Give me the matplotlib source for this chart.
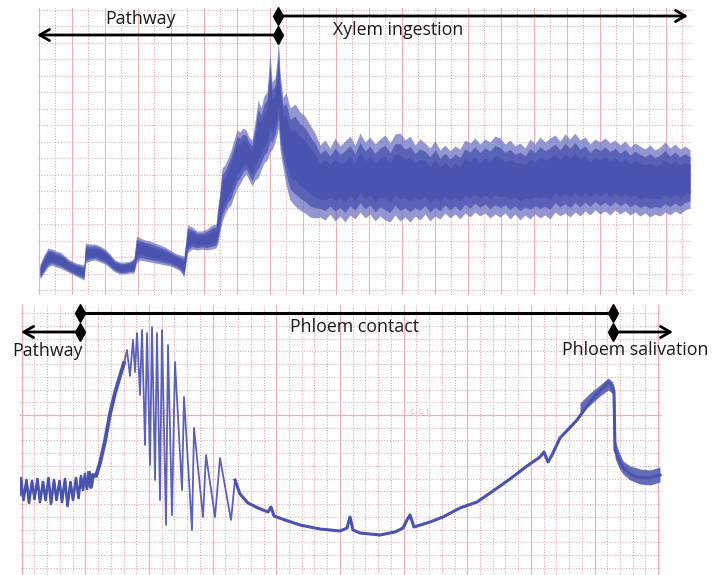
import numpy as np
import matplotlib
matplotlib.use("Agg")
import matplotlib.pyplot as plt
from matplotlib.ticker import FixedLocator

plt.rcParams['font.family'] = ['Open Sans', 'DejaVu Sans']

# ---------------- data (time in screen units, signal in screen units, y inverted) -------------
# Top recording: outer envelope of the noisy signal
top_t = [40, 44, 48, 52, 56, 60, 64, 68, 72, 76, 80, 84, 85.5, 90, 95, 100, 105, 110, 115, 120,
         125, 130, 134, 136.5, 140, 145, 150, 155, 160, 165, 170, 175, 180, 184, 187.5, 192, 197,
         202, 207, 212, 216,
         218, 220, 222, 225, 228, 231, 234, 237, 240, 243, 246, 249, 252, 255, 258, 261, 264, 267,
         270, 272, 275, 277, 278.5, 280, 283, 286, 290, 295, 300, 305, 310, 315, 320,
         325, 330, 335, 340, 345, 350, 355, 360, 365, 370, 375, 380, 385, 390, 395, 400, 405, 410,
         415, 420, 425, 430, 435, 440, 445, 450, 455, 460, 465, 470, 475, 480, 485, 490, 495, 500,
         505, 510, 515, 520, 525, 530, 535, 540, 545, 550, 555, 560, 565, 570, 575, 580, 585, 590,
         595, 600, 605, 610, 615, 620, 625, 630, 635, 640, 645, 650, 655, 660, 665, 670, 675, 680,
         685, 690]
top_hi = [264, 255, 248, 249, 251, 252, 255, 259, 261, 263, 264, 265, 243, 244, 244, 246, 249, 254, 260, 262,
          262, 261, 258, 236, 238, 240, 241, 243, 245, 247, 250, 253, 255, 256, 225, 227, 231,
          231, 229, 225, 224,
          205, 190, 168, 165, 158, 150, 140, 130, 132, 128, 130, 137, 140, 122, 100, 108, 96, 92,
          52, 82, 78, 60, 40, 72, 98, 92, 108, 104, 112, 116, 125, 133, 145,
          140, 148, 138, 146, 141, 136, 145, 133, 142, 137, 144, 139, 135, 143, 134, 133, 140, 136,
          145, 139, 143, 148, 141, 150, 145, 151, 146, 149, 140, 143, 138, 144, 139, 142, 136, 138,
          144, 140, 146, 143, 148, 139, 144, 137, 142, 138, 135, 141, 134, 139, 133, 140, 137, 144,
          139, 142, 138, 143, 140, 145, 141, 147, 143, 146, 149, 145, 150, 147, 142, 148, 144, 149,
          146, 150]
top_lo = [279, 273, 267, 265, 267, 268, 270, 272, 274, 276, 278, 280, 263, 261, 260, 262, 264, 268, 272, 274,
          274, 273, 273, 263, 260, 261, 262, 263, 264, 265, 266, 268, 271, 277, 253, 249, 250,
          249, 250, 249, 248,
          243, 232, 222, 214, 208, 205, 196, 188, 184, 178, 174, 180, 186, 180, 178, 170, 163, 160,
          152, 150, 142, 135, 128, 150, 168, 185, 200, 206, 210, 213, 217, 218, 217,
          220, 214, 221, 216, 222, 215, 219, 212, 218, 214, 221, 216, 220, 222, 215, 221, 217, 222,
          216, 220, 214, 221, 216, 219, 213, 218, 214, 219, 213, 217, 212, 216, 213, 218, 214, 217,
          213, 219, 214, 220, 215, 219, 214, 218, 215, 219, 212, 216, 213, 217, 212, 216, 211, 215,
          210, 214, 211, 215, 210, 214, 211, 215, 212, 216, 213, 217, 214, 216, 212, 215, 211, 214,
          210, 208]

# Bottom recording: signal trace
bot_t = [20, 21, 23.5, 26.5, 29, 32, 34.5, 37.5, 40, 43, 45.5, 48.5, 51, 54, 56.5, 59.5, 62, 65,
         67.5, 70.5, 73, 76, 78.5, 81, 83, 85, 87, 89, 91, 93,
         96, 100, 105, 110, 115, 120, 124,
         127, 130, 133, 135, 137, 140, 142, 145, 147, 150, 152, 155, 157, 160, 162, 166, 168, 172,
         175, 182, 184, 192, 194, 203, 206, 215, 220, 231, 235,
         240, 248, 258, 268, 271, 274, 285, 300, 320, 340, 347, 350, 353, 360, 380, 395, 403, 407,
         410, 414, 430, 443, 460, 477, 493, 510, 527, 540, 544, 548, 552, 560, 577, 593, 605, 608,
         612, 614, 615, 619, 623, 630, 637, 648, 660]
bot_v = [495, 478, 500, 480, 503, 481, 499, 479, 502, 482, 500, 478, 504, 480, 500, 481, 502, 479,
         506, 482, 500, 478, 498, 476, 490, 474, 489, 473, 487, 475,
         476, 463, 441, 414, 393, 376, 363,
         350, 376, 340, 372, 333, 395, 330, 445, 333, 465, 327, 480, 333, 500, 330, 525, 345, 515,
         362, 490, 397, 530, 428, 517, 455, 517, 458, 520, 480,
         494, 503, 508, 512, 507, 516, 520, 525, 529, 531, 528, 517, 530, 533, 535, 532, 528, 520,
         515, 527, 522, 517, 508, 502, 491, 479, 466, 457, 452, 462, 455, 438, 420, 398, 386, 382,
         386, 392, 450, 460, 467, 474, 477, 478, 475]

# noisy band around the peak and after the drop
band_t = [580, 590, 600, 608, 612, 614, 615, 619, 623, 630, 640, 650, 660]
band_hi = [403, 393, 385, 378, 381, 386, 440, 452, 461, 466, 469, 470, 467]
band_lo = [414, 405, 396, 390, 393, 398, 458, 468, 474, 480, 484, 485, 482]

TRACE = "#4a53ad"
TRACE_MID = "#5a62b8"
TRACE_LIGHT = "#6e74c4"
GRID_MINOR = "#e6a0aa"
GRID_MAJOR = "#f0b0b8"
GRID_H = "#d9b0b8"

fig = plt.figure(figsize=(7.25, 5.75), dpi=100)
W, H = 725.0, 575.0


def add_px_axes(x0, x1, y0, y1):
    ax = fig.add_axes([x0 / W, 1 - y1 / H, (x1 - x0) / W, (y1 - y0) / H])
    ax.set_xlim(x0, x1)
    ax.set_ylim(y1, y0)
    for s in ax.spines.values():
        s.set_visible(False)
    ax.tick_params(which='both', length=0, labelleft=False, labelbottom=False)
    return ax

# ---------------- top panel ----------------
ax1 = add_px_axes(38, 692, 8, 295)
vx = [39 + 16.49 * k for k in range(40)]
hy = [290 - 16.49 * k for k in range(18)]
ax1.xaxis.set_major_locator(FixedLocator(vx[0::2]))
ax1.xaxis.set_minor_locator(FixedLocator(vx[1::2]))
ax1.yaxis.set_major_locator(FixedLocator(hy))
ax1.grid(which='major', axis='x', color=GRID_MAJOR, lw=0.8, ls='-')
ax1.grid(which='minor', axis='x', color=GRID_MINOR, lw=0.8, ls=(0, (1, 1.5)))
ax1.grid(which='major', axis='y', color=GRID_H, lw=0.8, ls=(0, (1, 1.5)))
ax1.set_axisbelow(True)

t = np.array(top_t, float)
hi = np.array(top_hi, float)
lo = np.array(top_lo, float)
ax1.fill_between(t, hi, lo, color=TRACE_LIGHT, alpha=0.75, lw=0, zorder=3)
ax1.fill_between(t, hi + (lo - hi) * 0.12, lo - (lo - hi) * 0.12, color=TRACE_MID, lw=0, zorder=4)
ax1.fill_between(t, hi + (lo - hi) * 0.25, lo - (lo - hi) * 0.25, color=TRACE, lw=0, zorder=5)

# ---------------- bottom panel ----------------
ax2 = add_px_axes(20, 662, 305, 575)
bx = [21.7 + 12.73 * k for k in range(51)]
by = [415 + 12.73 * k for k in range(-8, 13)]
ax2.xaxis.set_major_locator(FixedLocator(bx[0::5]))
ax2.xaxis.set_minor_locator(FixedLocator([v for i, v in enumerate(bx) if i % 5]))
ax2.yaxis.set_major_locator(FixedLocator([415]))
ax2.yaxis.set_minor_locator(FixedLocator([v for v in by if abs(v - 415) > 1]))
ax2.grid(which='major', axis='x', color=GRID_MAJOR, lw=0.9, ls='-')
ax2.grid(which='minor', axis='x', color=GRID_MINOR, lw=0.8, ls=(0, (1, 1.5)))
ax2.grid(which='major', axis='y', color=GRID_MAJOR, lw=0.9, ls='-')
ax2.grid(which='minor', axis='y', color=GRID_H, lw=0.8, ls=(0, (1, 1.5)))
ax2.set_axisbelow(True)

bt = np.array(bot_t, float)
bv = np.array(bot_v, float)
ax2.plot(bt, bv, color=TRACE_MID, lw=1.3, zorder=3)
m1 = bt <= 93
ax2.plot(bt[m1], bv[m1], color=TRACE, lw=1.9, zorder=4)
m2 = (bt >= 88) & (bt <= 124)
ax2.plot(bt[m2], bv[m2], color=TRACE, lw=2.8, zorder=4)
m3 = bt >= 235
ax2.plot(bt[m3], bv[m3], color=TRACE, lw=2.2, zorder=4)
ax2.fill_between(band_t, band_hi, band_lo, color=TRACE, alpha=0.85, lw=0, zorder=4)

ax2.text(165, 412, "C\u2013C 1", color="#e8a4ae", fontsize=5.5, ha='center', va='center', zorder=2)
ax2.text(420, 412, "C\u2013C 1", color="#e8a4ae", fontsize=5.5, ha='center', va='center', zorder=2)

# ---------------- annotations (figure pixel overlay) ----------------
ov = fig.add_axes([0, 0, 1, 1])
ov.set_xlim(0, W)
ov.set_ylim(H, 0)
ov.axis('off')
ov.patch.set_alpha(0)

arrow_kw = dict(arrowstyle='->,head_length=0.7,head_width=0.4', lw=2.0, color='black',
                shrinkA=0, shrinkB=0)
fs = 12.8
# top
ov.annotate('', xy=(37, 35), xytext=(278, 35), arrowprops=arrow_kw)
ov.annotate('', xy=(688, 16), xytext=(278, 16), arrowprops=arrow_kw)
ov.plot([278, 278], [16, 35], ls='none', marker='d', ms=9, color='black')
ov.text(141, 19, "Pathway", fontsize=fs, ha='center', va='center', color='#1a1a1a')
ov.text(398, 30, "Xylem ingestion", fontsize=fs, ha='center', va='center', color='#1a1a1a')
# bottom
ov.plot([80, 613], [313, 313], color='black', lw=2.2)
ov.plot([80, 613], [313, 313], ls='none', marker='d', ms=9, color='black')
ov.annotate('', xy=(21, 332), xytext=(80, 332), arrowprops=arrow_kw)
ov.annotate('', xy=(673, 332), xytext=(613, 332), arrowprops=arrow_kw)
ov.plot([80, 613], [332, 332], ls='none', marker='d', ms=9, color='black')
ov.text(355, 327, "Phloem contact", fontsize=fs, ha='center', va='center', color='#1a1a1a')
ov.text(48, 351, "Pathway", fontsize=fs, ha='center', va='center', color='#1a1a1a')
ov.text(635, 350, "Phloem salivation", fontsize=fs, ha='center', va='center', color='#1a1a1a')

fig.savefig("out.png", dpi=100, facecolor='white')
